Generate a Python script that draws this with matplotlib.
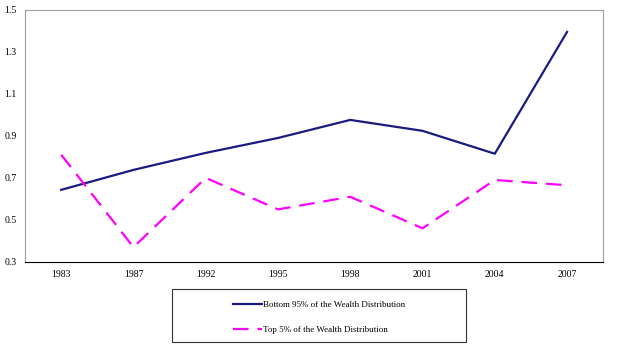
import matplotlib
matplotlib.use("Agg")
import matplotlib.pyplot as plt
from matplotlib.patches import Rectangle
import numpy as np

years = ["1983", "1987", "1992", "1995", "1998", "2001", "2004", "2007"]
bottom95 = [0.643, 0.738, 0.819, 0.890, 0.976, 0.924, 0.815, 1.395]
top5 = [0.81, 0.37, 0.70, 0.55, 0.61, 0.46, 0.69, 0.665]
yticks = [0.3, 0.5, 0.7, 0.9, 1.1, 1.3, 1.5]

plt.rcParams['font.family'] = ['Liberation Serif', 'DejaVu Serif']

fig = plt.figure(figsize=(6.27, 3.52), dpi=100)
ax = fig.add_axes([0.040, 0.256, 0.922, 0.716])

x = np.arange(len(years))
ax.plot(x, bottom95, color='#1a1a80', lw=1.6, label='Bottom 95% of the Wealth Distribution')
ax.plot(x, top5, color='#ff00ff', lw=1.6, dashes=(7, 4),
        label='Top 5% of the Wealth Distribution')

ax.set_xlim(-0.5, len(years) - 0.5)
ax.set_ylim(0.3, 1.5)
ax.set_xticks(x)
ax.set_xticklabels(years)
ax.set_yticks(yticks)
ax.set_yticklabels([f"{v:.1f}" for v in yticks])
ax.tick_params(length=0, labelsize=7, pad=6)

for side in ['top', 'right', 'left']:
    ax.spines[side].set_color('#a0a0a0')
    ax.spines[side].set_linewidth(0.8)
ax.spines['bottom'].set_color('black')
ax.spines['bottom'].set_linewidth(0.8)

# legend box drawn by hand, entries centred inside it
box = Rectangle((172 / 627, 1 - 342 / 352), 294 / 627, 53 / 352,
                transform=fig.transFigure, fill=False, edgecolor='#333333', lw=0.8)
fig.patches.append(box)
fig.legend(loc='center', bbox_to_anchor=(319 / 627, 1 - 317.5 / 352),
           frameon=False, fontsize=6.5, handlelength=3.2, handletextpad=0.1,
           labelspacing=1.9, borderpad=0, borderaxespad=0)

fig.savefig("out.png", dpi=100)
